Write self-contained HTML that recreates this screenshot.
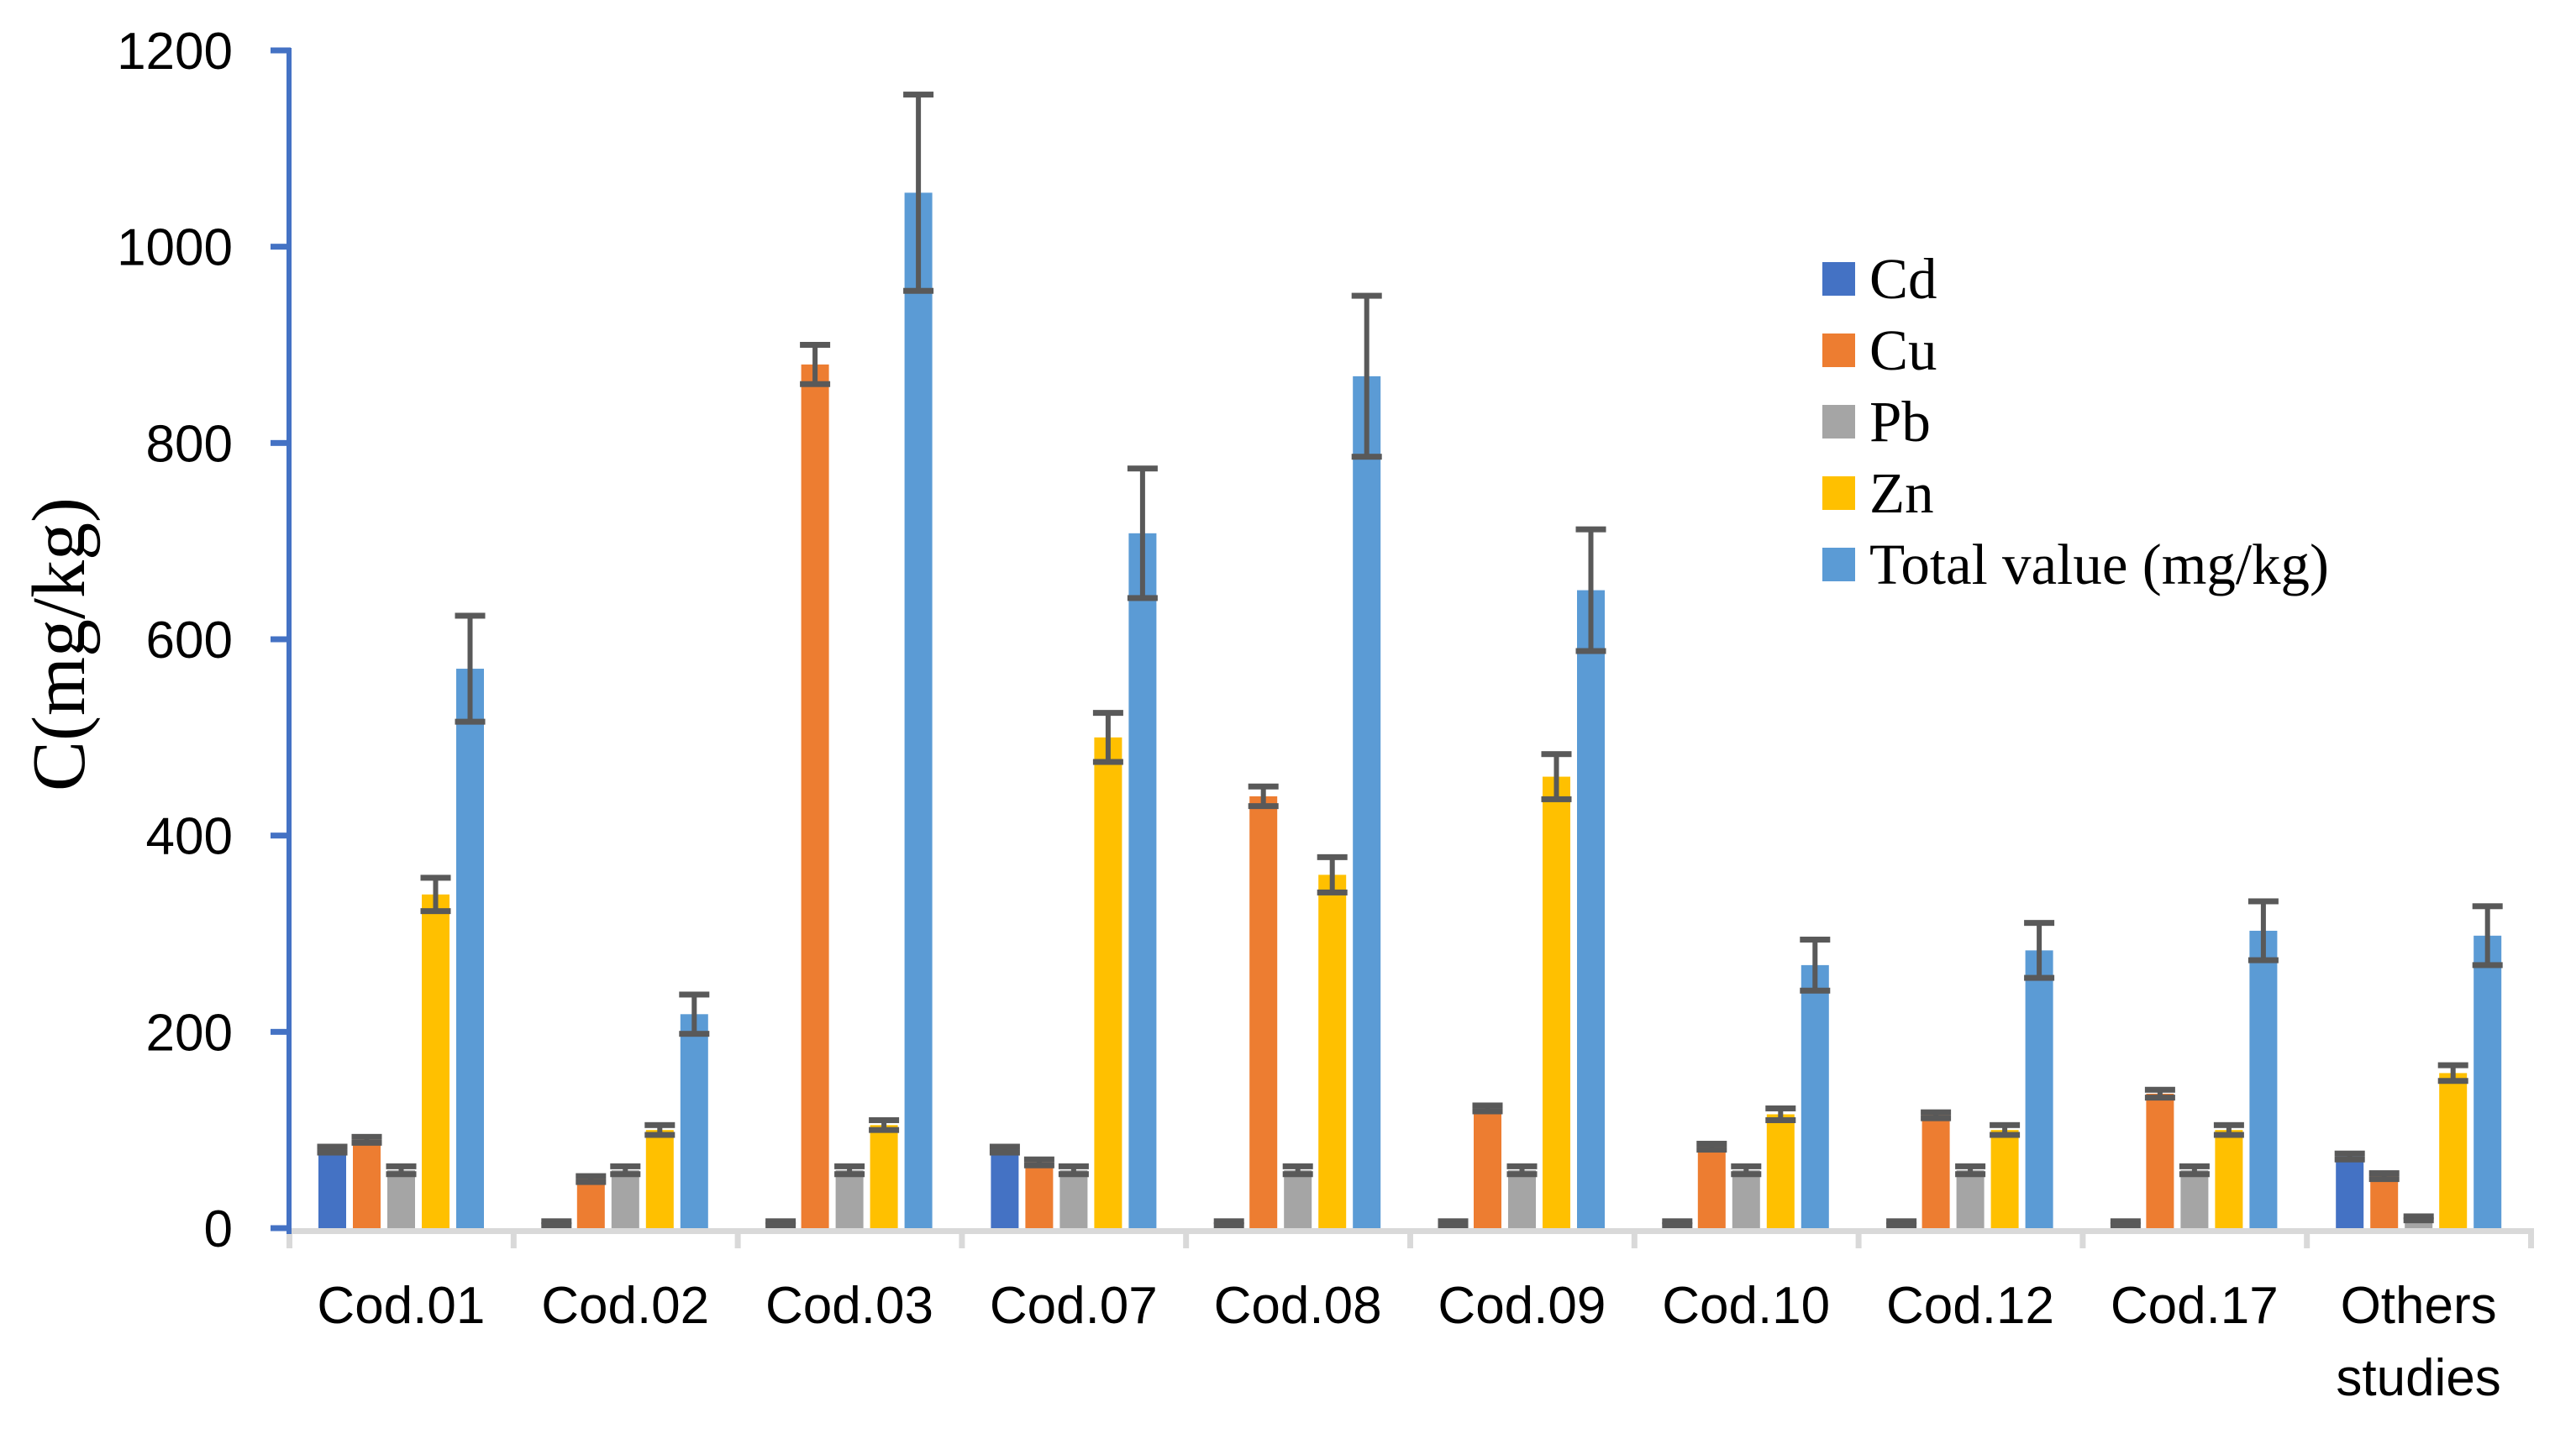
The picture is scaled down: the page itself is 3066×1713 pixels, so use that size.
<!DOCTYPE html>
<html><head><meta charset="utf-8"><style>
html,body{margin:0;padding:0;background:#fff;}
svg{display:block;}
</style></head><body>
<svg id="chart" width="3066" height="1713" viewBox="0 0 3066 1713" xmlns="http://www.w3.org/2000/svg"></svg>
<script>
const categories = ["Cod.01","Cod.02","Cod.03","Cod.07","Cod.08","Cod.09","Cod.10","Cod.12","Cod.17","Others studies"];
const seriesNames = ["Cd","Cu","Pb","Zn","Total value (mg/kg)"];
const cdValues = [80,5,5,80,5,5,5,5,5,73];
const cuValues = [90,50,880,67,440,122,83,115,137,53];
const pbValues = [59,59,59,59,59,59,59,59,59,10];
const znValues = [340,100,105,500,360,460,116,100,100,158];
const totalValues = [570,218,1055,708,868,650,268,283,303,298];
const cdErr = [3,2,2,3,2,2,2,2,2,3];
const cuErr = [3,3,20,3,10,3,3,3,4,3];
const pbErr = [4,4,4,4,4,4,4,4,4,2];
const znErr = [17,5,5,25,18,23,6,5,5,8];
const totalErr = [54,20,100,66,82,62,26,28,30,30];
const yTicks = [0,200,400,600,800,1000,1200];

const colors = ["#4472C4","#ED7D31","#A5A5A5","#FFC000","#5B9BD5"];
const values = [cdValues,cuValues,pbValues,znValues,totalValues];
const errs = [cdErr,cuErr,pbErr,znErr,totalErr];
const slugs = ["cd","cu","pb","zn","total"];

const NS = "http://www.w3.org/2000/svg";
const svg = document.getElementById('chart');
const X0 = 344, X1 = 3012, Y0 = 1462, YTOP = 60, YMAX = 1200;
const catW = (X1 - X0) / categories.length;
function y(v){ return Y0 - (v / YMAX) * (Y0 - YTOP); }
function mk(tag, attrs){ const e = document.createElementNS(NS, tag); for (const k in attrs) e.setAttribute(k, attrs[k]); svg.appendChild(e); return e; }

yTicks.forEach(t => {
  const ty = y(t);
  const tk = mk('rect', {x: 322, y: ty - 3.5, width: 24, height: 7, fill: '#4472C4'});
  
  
  const lb = mk('text', {x: 277, y: ty + 22, 'text-anchor': 'end', 'font-family': '"Liberation Sans", sans-serif', 'font-size': 62, fill: '#000'});
  lb.textContent = t;
  
  
});

const barW = 33, step = 41, offset = 35;
categories.forEach((c, i) => {
  const cx = X0 + i * catW;
  values.forEach((arr, s) => {
    const bx = cx + offset + s * step;
    const v = arr[i];
    const r = mk('rect', {x: bx, y: y(v), width: barW, height: Y0 - y(v), fill: colors[s]});
    
    
  });
});

const xa = mk('rect', {x: X0, y: Y0, width: X1 - X0 + 3, height: 7, fill: '#D9D9D9'});


for (let i = 0; i <= categories.length; i++) {
  const t = mk('rect', {x: X0 + i * catW - 3, y: Y0, width: 7, height: 24, fill: '#D9D9D9'});
  
  
}

categories.forEach((c, i) => {
  const cx = X0 + i * catW;
  values.forEach((arr, s) => {
    const mx = cx + offset + s * step + barW / 2;
    const v = arr[i], e = errs[s][i];
    const yt = y(v + e), yb = y(v - e);
    const g = document.createElementNS(NS, 'g');
    
    
    svg.appendChild(g);
    const add = (a) => { const el = document.createElementNS(NS, 'rect'); for (const k in a) el.setAttribute(k, a[k]); el.setAttribute('fill', '#595959'); g.appendChild(el); };
    add({x: mx - 3, y: yt, width: 6, height: yb - yt});
    add({x: mx - 18, y: yt - 3.5, width: 36, height: 7});
    add({x: mx - 18, y: yb - 3.5, width: 36, height: 7});
  });
});

const ya = mk('rect', {x: 341, y: YTOP - 3, width: 6, height: Y0 - YTOP + 10, fill: '#4472C4'});



categories.forEach((c, i) => {
  const cx = X0 + (i + 0.5) * catW;
  const words = c === "Others studies" ? ["Others", "studies"] : [c];
  words.forEach((w, k) => {
    const t = mk('text', {x: cx, y: 1575 + k * 86, 'text-anchor': 'middle', 'font-family': '"Liberation Sans", sans-serif', 'font-size': 62, fill: '#000'});
    t.textContent = w;
    
    
  });
});

const yt = mk('text', {x: 0, y: 0, transform: 'translate(100,767) rotate(-90)', 'text-anchor': 'middle', 'font-family': '"Liberation Serif", serif', 'font-size': 90, fill: '#000'});
yt.textContent = 'C(mg/kg)';



seriesNames.forEach((n, s) => {
  const cy = 332 + s * 85;
  const sw = mk('rect', {x: 2169, y: cy - 20, width: 39, height: 40, fill: colors[s]});
  
  
  const t = mk('text', {x: 2225, y: cy + 23, 'font-family': '"Liberation Serif", serif', 'font-size': 69, fill: '#000'});
  t.textContent = n;
  
  
});
</script>
</body></html>
